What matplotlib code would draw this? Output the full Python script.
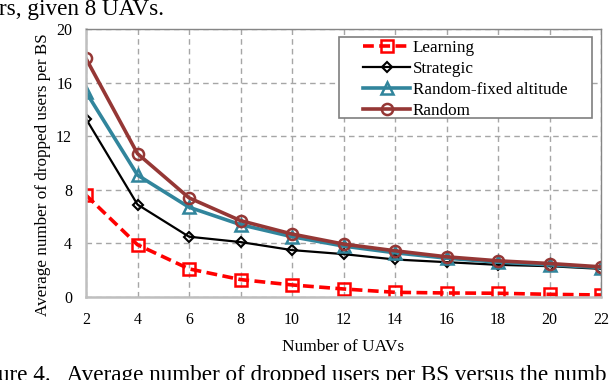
import matplotlib.pyplot as plt
from matplotlib.patches import Rectangle

plt.rcParams['font.family'] = ['Liberation Serif', 'DejaVu Serif']

uavs = [2, 4, 6, 8, 10, 12, 14, 16, 18, 20, 22]
learning = [7.6, 3.9, 2.1, 1.3, 0.9, 0.6, 0.35, 0.3, 0.28, 0.2, 0.15]
strategic = [13.3, 6.9, 4.5, 4.1, 3.5, 3.2, 2.8, 2.6, 2.4, 2.3, 2.1]
random_fixed = [15.3, 9.1, 6.7, 5.4, 4.5, 3.8, 3.3, 2.9, 2.6, 2.4, 2.2]
random_ = [17.8, 10.7, 7.4, 5.7, 4.7, 3.95, 3.45, 3.0, 2.7, 2.5, 2.25]

fig = plt.figure(figsize=(6.16, 3.8), dpi=100)
ax = fig.add_axes([86/616, 1-297/380, (601-86)/616, (297-29)/380])

ax.plot(uavs, learning, '--s', color='#FF0000', lw=2.6, ms=8, mfc='none', mew=1.8,
        dashes=(3, 1.5), label='Learning')
ax.plot(uavs, strategic, '-D', color='black', lw=1.6, ms=5.5, mfc='none', mew=1.5,
        label='Strategic')
ax.plot(uavs, random_fixed, '-^', color='#31859C', lw=2.6, ms=8, mfc='none', mew=1.8,
        label='Random-fixed altitude')
ax.plot(uavs, random_, '-o', color='#953735', lw=2.6, ms=8, mfc='none', mew=1.8,
        label='Random')

ax.set_xlim(2, 22)
ax.set_ylim(0, 20)
ax.set_xticks(uavs)
ax.set_yticks([0, 4, 8, 12, 16, 20])
ax.grid(True, color='#A6A6A6', linestyle=(0, (4, 3)), lw=1)
ax.tick_params(axis='x', length=0, labelsize=11.5, pad=11)
ax.tick_params(axis='y', length=0, labelsize=11.5, pad=10)
for side in ['left', 'bottom']:
    ax.spines[side].set_color('#BFBFBF')
    ax.spines[side].set_linewidth(1.8)
for side in ['top', 'right']:
    ax.spines[side].set_color('#868686')
    ax.spines[side].set_linewidth(1.0)

ax.set_xlabel('Number of UAVs', fontsize=12.5, labelpad=8)
ax.set_ylabel('Average number of dropped users per BS', fontsize=12.3)
ax.yaxis.set_label_coords(-0.068, 0.455)

# legend box drawn separately so it can be wider than its content
ax.add_patch(Rectangle((0.491, 0.668), 0.4915, 0.302, transform=ax.transAxes,
                       facecolor='white', edgecolor='#7F7F7F', lw=1.2, zorder=5))
leg = ax.legend(loc='upper left', bbox_to_anchor=(0.538, 0.958), fontsize=12.3,
                frameon=False, handlelength=2.75, borderpad=0, labelspacing=0.28,
                handletextpad=0.15, borderaxespad=0)
leg.set_zorder(6)

fig.text(-0.002, 0.9605, 'rs, given 8 UAVs.', fontsize=16.7, va='baseline', ha='left')
fig.text(-0.004, -0.003, 'ure 4.   Average number of dropped users per BS versus the numb',
         fontsize=16.7, va='baseline', ha='left')

fig.savefig('out.png', dpi=100)
